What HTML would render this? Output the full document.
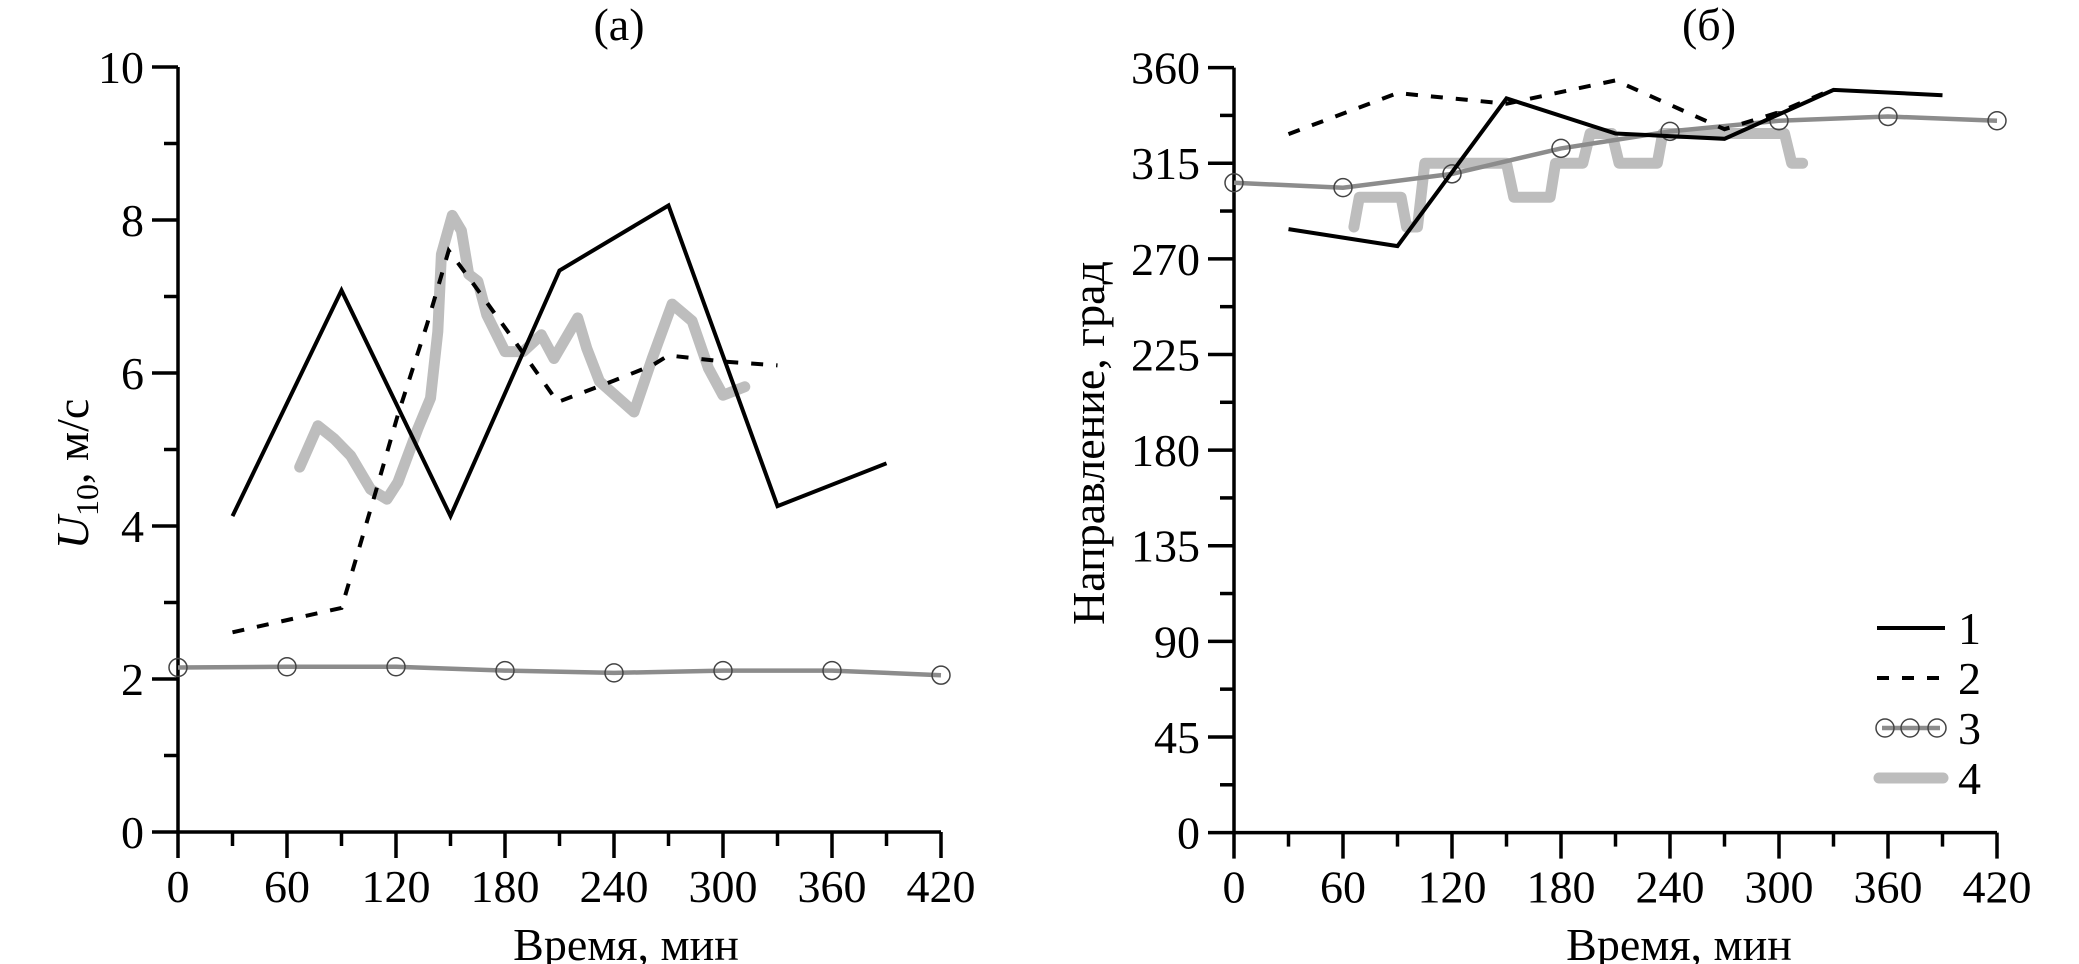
<!DOCTYPE html>
<html><head><meta charset="utf-8"><style>
html,body{margin:0;padding:0;background:#fff;}
svg{display:block;font-family:"Liberation Serif",serif;}
</style></head><body>
<svg id="fig" width="2079" height="964" viewBox="0 0 2079 964" xmlns="http://www.w3.org/2000/svg">
<g id="pa"></g>
<g id="pb"></g>
</svg>
<script>
// ---- Panel (a) data: wind speed U10, m/s ----
const a_s1_t = [30, 90, 150, 210, 270, 330, 390];
const a_s1_v = [4.13, 7.08, 4.13, 7.34, 8.19, 4.26, 4.82];
const a_s2_t = [30, 90, 96, 109, 121, 137, 149, 160, 184, 209, 240, 261, 270, 300, 330];
const a_s2_v = [2.61, 2.93, 3.41, 4.46, 5.45, 6.63, 7.6, 7.25, 6.46, 5.62, 5.9, 6.1, 6.23, 6.15, 6.1];
const a_s3_t = [0, 60, 120, 180, 240, 300, 360, 420];
const a_s3_v = [2.15, 2.16, 2.16, 2.11, 2.08, 2.11, 2.11, 2.05];
const a_s4_t = [67, 77, 86, 95, 106, 115, 121, 132, 139, 143, 145, 151, 156, 160, 165, 170, 180, 190, 200, 207, 220, 225, 232, 251, 261, 272, 283, 292, 300, 312];
const a_s4_v = [4.77, 5.31, 5.14, 4.92, 4.48, 4.35, 4.57, 5.27, 5.67, 6.54, 7.55, 8.06, 7.86, 7.29, 7.2, 6.76, 6.28, 6.28, 6.5, 6.19, 6.72, 6.32, 5.89, 5.49, 6.19, 6.9, 6.68, 6.06, 5.71, 5.82];
const a_yticks = [0, 2, 4, 6, 8, 10];
const xticks = [0, 60, 120, 180, 240, 300, 360, 420];

// ---- Panel (b) data: wind direction, deg ----
const b_s1_t = [30, 90, 150, 210, 270, 330, 390];
const b_s1_v = [284, 276, 345.5, 329, 326.5, 349.5, 347];
const b_s2_t = [30, 90, 150, 210, 270, 300, 330];
const b_s2_v = [328.7, 348, 343, 354, 331, 339, 350];
const b_s3_t = [0, 60, 120, 180, 240, 300, 360, 420];
const b_s3_v = [305.8, 303.5, 310, 322, 330, 335, 337, 335];
const b_s4_t = [66, 69, 92, 95, 101, 105, 150, 154, 174, 177, 192, 196, 208, 212, 233, 236, 303, 307, 313];
const b_s4_v = [285, 299, 299, 285, 285, 315, 315, 299, 299, 315, 315, 329, 329, 315, 315, 329, 329, 315, 315];
const b_yticks = [0, 45, 90, 135, 180, 225, 270, 315, 360];

const NS = "http://www.w3.org/2000/svg";
function mk(parent, tag, attrs, text) {
  const e = document.createElementNS(NS, tag);
  for (const k in attrs) e.setAttribute(k, attrs[k]);
  if (text !== undefined) e.textContent = text;
  parent.appendChild(e);
  return e;
}

function drawPanel(g, cfg) {
  const X = t => cfg.x0 + (t - 0) / 420 * (cfg.x1 - cfg.x0);
  const Y = v => cfg.y0 - v / cfg.ymax * (cfg.y0 - cfg.y1);
  const ax = mk(g, "path", {d: `M${cfg.x0},${cfg.y1} V${cfg.y0} H${cfg.x1}`, fill: "none", stroke: "#000", "stroke-width": 3.5});
  
  
  for (let t = 0; t <= 420; t += 30) {
    const major = t % 60 === 0;
    const tk = mk(g, "line", {x1: X(t), x2: X(t), y1: cfg.y0, y2: cfg.y0 + (major ? 26 : 14), stroke: "#000", "stroke-width": 3.5});
    
    
  }
  xticks.forEach(t => {
    const lb = mk(g, "text", {x: X(t), y: cfg.y0 + 70, "font-size": 46, "text-anchor": "middle"}, String(t));
    
    
  });
  const step = cfg.yticks[1] - cfg.yticks[0];
  for (let v = 0; v <= cfg.ymax + 1e-9; v += step / 2) {
    const major = Math.abs(v / step - Math.round(v / step)) < 1e-6;
    const tk = mk(g, "line", {x1: cfg.x0 - (major ? 26 : 14), x2: cfg.x0, y1: Y(v), y2: Y(v), stroke: "#000", "stroke-width": 3.5});
    
    
  }
  cfg.yticks.forEach(v => {
    const lb = mk(g, "text", {x: cfg.x0 - 34, y: Y(v) + 16, "font-size": 46, "text-anchor": "end"}, String(v));
    
    
  });
  const pts = (ts, vs) => ts.map((t, i) => X(t).toFixed(1) + "," + Y(vs[i]).toFixed(1)).join(" ");
  const s4 = mk(g, "polyline", {points: pts(cfg.s4t, cfg.s4v), fill: "none", stroke: "#bdbdbd", "stroke-width": 11, "stroke-linejoin": "round", "stroke-linecap": "round"});
  
  
  const s3 = mk(g, "polyline", {points: pts(cfg.s3t, cfg.s3v), fill: "none", stroke: "#8c8c8c", "stroke-width": 4.5});
  
  
  cfg.s3t.forEach((t, i) => {
    const c = mk(g, "circle", {cx: X(t), cy: Y(cfg.s3v[i]), r: 9, fill: "none", stroke: "#444", "stroke-width": 1.5});
    
    
  });
  const s2 = mk(g, "polyline", {points: pts(cfg.s2t, cfg.s2v), fill: "none", stroke: "#000", "stroke-width": 4, "stroke-dasharray": "12 13"});
  
  
  const s1 = mk(g, "polyline", {points: pts(cfg.s1t, cfg.s1v), fill: "none", stroke: "#000", "stroke-width": 4, "stroke-linejoin": "miter"});
  
  
  const tt = mk(g, "text", {x: cfg.titleX, y: 40, "font-size": 46, "text-anchor": "middle"}, cfg.title);
  
  
  const xt = mk(g, "text", {x: cfg.xtitleX, y: 960, "font-size": 46, "text-anchor": "middle"}, "Время, мин");
  
  
}

const pa = document.getElementById("pa");
drawPanel(pa, {x0: 178, x1: 941, y0: 832, y1: 67, ymax: 10, yticks: a_yticks,
  s1t: a_s1_t, s1v: a_s1_v, s2t: a_s2_t, s2v: a_s2_v, s3t: a_s3_t, s3v: a_s3_v, s4t: a_s4_t, s4v: a_s4_v,
  title: "(а)", titleX: 619, xtitleX: 626});
const pb = document.getElementById("pb");
drawPanel(pb, {x0: 1234, x1: 1997, y0: 832.6, y1: 67.6, ymax: 360, yticks: b_yticks,
  s1t: b_s1_t, s1v: b_s1_v, s2t: b_s2_t, s2v: b_s2_v, s3t: b_s3_t, s3v: b_s3_v, s4t: b_s4_t, s4v: b_s4_v,
  title: "(б)", titleX: 1709, xtitleX: 1679});

const yta = mk(pa, "text", {transform: "translate(88,474) rotate(-90)", "font-size": 46, "text-anchor": "middle"});


mk(yta, "tspan", {"font-style": "italic"}, "U");
mk(yta, "tspan", {"font-size": 32, dy: 10}, "10");
mk(yta, "tspan", {dy: -10}, ", м/с");
const ytb = mk(pb, "text", {transform: "translate(1104,443) rotate(-90)", "font-size": 46, "text-anchor": "middle"}, "Направление, град");



const lg = mk(pb, "g", {});


const l1 = mk(lg, "line", {x1: 1877, x2: 1945, y1: 628, y2: 628, stroke: "#000", "stroke-width": 4});


const l2 = mk(lg, "line", {x1: 1877, x2: 1945, y1: 678, y2: 678, stroke: "#000", "stroke-width": 4, "stroke-dasharray": "12 13"});


const l3 = mk(lg, "line", {x1: 1882, x2: 1940, y1: 728, y2: 728, stroke: "#8c8c8c", "stroke-width": 4.5});


[1885, 1910, 1937].forEach(cx => {
  const c = mk(lg, "circle", {cx: cx, cy: 728, r: 9, fill: "none", stroke: "#444", "stroke-width": 1.5});
  
  
});
const l4 = mk(lg, "line", {x1: 1879, x2: 1943, y1: 778, y2: 778, stroke: "#bdbdbd", "stroke-width": 11, "stroke-linecap": "round"});


["1", "2", "3", "4"].forEach((s, i) => {
  const t = mk(lg, "text", {x: 1958, y: 644 + i * 50, "font-size": 46}, s);
  
  
});
</script>
</body></html>
